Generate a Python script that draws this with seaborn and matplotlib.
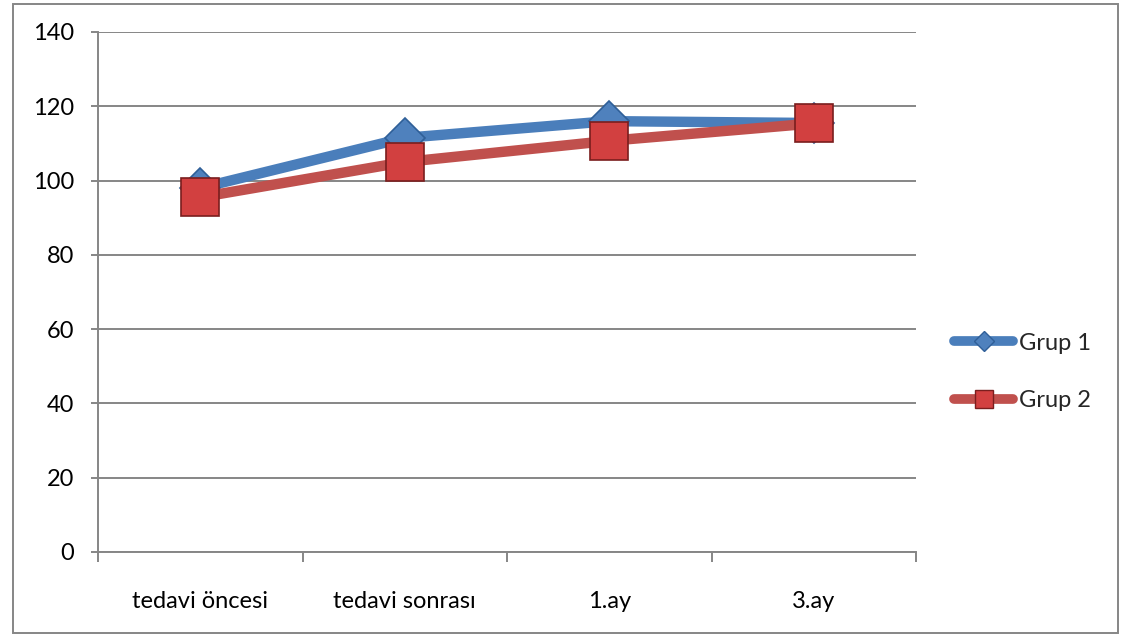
import matplotlib
matplotlib.use("Agg")
import matplotlib.pyplot as plt
import seaborn as sns
import pandas as pd
from matplotlib.lines import Line2D
from matplotlib.patches import Rectangle

categories = ["tedavi öncesi", "tedavi sonrası", "1.ay", "3.ay"]
grup1 = [98, 111.5, 116, 115.5]
grup2 = [95.5, 105, 110.7, 115.4]
series_names = ["Grup 1", "Grup 2"]
yticks = [0, 20, 40, 60, 80, 100, 120, 140]

sns.set_theme(style="white")
plt.rcParams['font.family'] = ['Lato', 'DejaVu Sans']

df = pd.DataFrame({
    "x": list(range(len(categories))) * 2,
    "value": grup1 + grup2,
    "grup": [series_names[0]] * 4 + [series_names[1]] * 4,
})

fig = plt.figure(figsize=(11.23, 6.36), dpi=100)
ax = fig.add_axes([98/1123, 84/636, (916-98)/1123, (552-32)/636])

styles = {
    "Grup 1": dict(color="#4A7EBB", marker="D", markersize=20, mfc="#4F81BD", mec="#2F5F98"),
    "Grup 2": dict(color="#C0504D", marker="s", markersize=27, mfc="#D24040", mec="#7A1E1E"),
}
for name in series_names:
    st = styles[name]
    sns.lineplot(data=df[df.grup == name], x="x", y="value", ax=ax,
                 color=st["color"], linewidth=7.5, marker=st["marker"],
                 markersize=st["markersize"], markerfacecolor=st["mfc"],
                 markeredgecolor=st["mec"], markeredgewidth=1.2,
                 solid_capstyle="round", legend=False, zorder=3)

ax.set_xlim(-0.5, 3.5)
ax.set_ylim(0, 140)
ax.set_yticks(yticks)
ax.set_xticks(range(len(categories)))
ax.set_xticklabels(categories)
ax.set_xticks([-0.5, 0.5, 1.5, 2.5, 3.5], minor=True)
ax.set_xlabel("")
ax.set_ylabel("")
ax.grid(axis="y", color="#868686", linewidth=1.4)
ax.grid(axis="x", visible=False)
ax.set_axisbelow(True)
for s in ["top", "right"]:
    ax.spines[s].set_visible(False)
for s in ["left", "bottom"]:
    ax.spines[s].set_color("#868686")
    ax.spines[s].set_linewidth(1.4)
ax.tick_params(axis="y", which="major", length=5, width=1.4, color="#868686",
               direction="out", left=True, pad=12, labelsize=17, labelcolor="black")
ax.tick_params(axis="x", which="major", length=0, pad=28, labelsize=17, labelcolor="black")
ax.tick_params(axis="x", which="minor", length=7, width=1.4, color="#868686",
               direction="out", bottom=True)

handles = [
    Line2D([0], [0], color=styles[n]["color"], linewidth=7, solid_capstyle="round",
           marker=styles[n]["marker"], markersize=10 if n == "Grup 1" else 13,
           markerfacecolor=styles[n]["mfc"], markeredgecolor=styles[n]["mec"])
    for n in series_names
]
fig.legend(handles, series_names, loc="center left", bbox_to_anchor=(945/1123, 1 - 372/636),
           frameon=False, fontsize=17, handlelength=2.5, handletextpad=0.25,
           labelspacing=1.55, borderaxespad=0)

fig.add_artist(Rectangle((13/1123, 3/636), (1118-13)/1123, (632-3)/636,
                         transform=fig.transFigure, fill=False,
                         edgecolor="#868686", linewidth=1.4))

fig.savefig("out.png", dpi=100)
